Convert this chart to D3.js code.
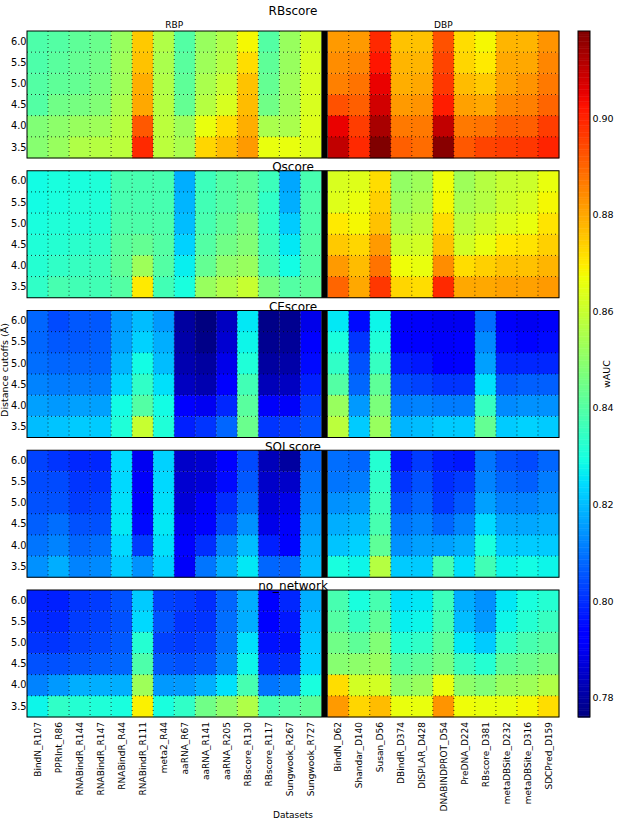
<!DOCTYPE html>
<html><head><meta charset="utf-8">
<script src="https://cdn.jsdelivr.net/npm/d3@7"></script>
<style>body{margin:0;background:#fff}svg{display:block;font-family:"DejaVu Sans",sans-serif}</style>
</head><body><svg id="c" width="621" height="826"></svg>
<script>
const cutoffs = ["6.0","5.5","5.0","4.5","4.0","3.5"];
const rbpDatasets = ["BindN_R107","PPRInt_R86","RNABindR_R144","RNABindR_R147","RNABindR_R44","RNABindR_R111","meta2_R44","aaRNA_R67","aaRNA_R141","aaRNA_R205","RBscore_R130","RBscore_R117","Sungwook_R267","Sungwook_R727"];
const dbpDatasets = ["BindN_D62","Shandar_D140","Susan_D56","DBindR_D374","DISPLAR_D428","DNABINDPROT_D54","PreDNA_D224","RBscore_D381","metaDBSite_D232","metaDBSite_D316","SDCPred_D159"];
const panelNames = ["RBscore","Qscore","CEscore","SOLscore","no_network"];
const groupLabels = ["RBP","DBP"];
const colorbarTicks = [0.78,0.80,0.82,0.84,0.86,0.88,0.90];

// values per dataset (RBP then DBP), each listing cutoffs 6.0 .. 3.5
const rbscoreValues = [
[0.839,0.839,0.840,0.840,0.848,0.849],[0.840,0.841,0.842,0.845,0.850,0.852],[0.842,0.843,0.843,0.846,0.852,0.856],
[0.844,0.845,0.846,0.848,0.853,0.857],[0.852,0.853,0.853,0.855,0.857,0.858],[0.875,0.876,0.879,0.880,0.892,0.899],
[0.856,0.855,0.856,0.857,0.858,0.858],[0.840,0.841,0.842,0.843,0.853,0.855],[0.852,0.853,0.855,0.857,0.866,0.873],
[0.856,0.857,0.860,0.863,0.872,0.877],[0.868,0.872,0.876,0.877,0.879,0.882],[0.840,0.842,0.843,0.845,0.855,0.866],
[0.852,0.852,0.853,0.853,0.855,0.866],[0.862,0.863,0.863,0.863,0.864,0.864],
[0.882,0.884,0.886,0.893,0.905,0.910],[0.882,0.885,0.888,0.891,0.896,0.899],[0.899,0.902,0.905,0.908,0.913,0.918],
[0.876,0.878,0.879,0.882,0.887,0.891],[0.876,0.878,0.880,0.883,0.887,0.889],[0.893,0.895,0.897,0.901,0.910,0.917],
[0.872,0.873,0.877,0.881,0.887,0.892],[0.868,0.870,0.875,0.880,0.888,0.895],[0.878,0.880,0.881,0.885,0.891,0.896],
[0.878,0.880,0.883,0.886,0.891,0.897],[0.883,0.885,0.887,0.890,0.896,0.900]];
const qscoreValues = [
[0.829,0.829,0.830,0.831,0.832,0.834],[0.830,0.830,0.831,0.832,0.834,0.838],[0.830,0.831,0.831,0.833,0.835,0.837],
[0.831,0.831,0.832,0.834,0.836,0.837],[0.838,0.838,0.839,0.841,0.842,0.840],[0.838,0.838,0.839,0.843,0.853,0.870],
[0.838,0.838,0.839,0.840,0.840,0.837],[0.818,0.819,0.820,0.823,0.827,0.830],[0.836,0.837,0.838,0.840,0.843,0.852],
[0.840,0.840,0.842,0.845,0.850,0.856],[0.842,0.843,0.846,0.848,0.852,0.860],[0.836,0.834,0.834,0.836,0.838,0.846],
[0.817,0.818,0.822,0.826,0.829,0.840],[0.838,0.839,0.839,0.840,0.840,0.842],
[0.863,0.864,0.870,0.875,0.882,0.890],[0.864,0.866,0.868,0.873,0.877,0.880],[0.872,0.874,0.876,0.882,0.888,0.897],
[0.851,0.853,0.856,0.861,0.867,0.873],[0.853,0.855,0.858,0.862,0.866,0.872],[0.867,0.868,0.872,0.876,0.884,0.899],
[0.853,0.855,0.858,0.862,0.872,0.880],[0.857,0.857,0.861,0.866,0.874,0.880],[0.860,0.861,0.864,0.870,0.876,0.881],
[0.861,0.863,0.866,0.871,0.876,0.881],[0.866,0.868,0.871,0.874,0.878,0.882]];
const cescoreValues = [
[0.808,0.808,0.809,0.812,0.816,0.820],[0.804,0.806,0.808,0.811,0.815,0.821],[0.806,0.806,0.808,0.811,0.816,0.822],
[0.806,0.807,0.808,0.811,0.816,0.822],[0.815,0.816,0.819,0.823,0.829,0.831],[0.820,0.823,0.829,0.834,0.840,0.860],
[0.815,0.818,0.820,0.825,0.829,0.831],[0.780,0.781,0.782,0.784,0.792,0.798],[0.776,0.777,0.780,0.782,0.790,0.801],
[0.784,0.786,0.789,0.792,0.799,0.808],[0.826,0.828,0.831,0.837,0.841,0.844],[0.777,0.778,0.780,0.783,0.791,0.801],
[0.778,0.779,0.781,0.784,0.791,0.802],[0.789,0.792,0.795,0.798,0.802,0.805],
[0.826,0.830,0.834,0.840,0.852,0.858],[0.795,0.801,0.805,0.808,0.815,0.822],[0.828,0.831,0.835,0.842,0.847,0.852],
[0.791,0.793,0.798,0.804,0.811,0.819],[0.791,0.793,0.797,0.803,0.812,0.820],[0.790,0.791,0.793,0.801,0.811,0.822],
[0.790,0.792,0.794,0.801,0.811,0.822],[0.809,0.813,0.816,0.825,0.835,0.843],[0.791,0.795,0.799,0.806,0.813,0.822],
[0.790,0.794,0.799,0.807,0.814,0.823],[0.791,0.795,0.799,0.807,0.814,0.822]];
const solscoreValues = [
[0.803,0.804,0.805,0.807,0.810,0.814],[0.801,0.804,0.805,0.809,0.812,0.818],[0.799,0.801,0.802,0.805,0.808,0.812],
[0.799,0.801,0.803,0.805,0.809,0.813],[0.824,0.824,0.825,0.826,0.824,0.822],[0.790,0.791,0.792,0.795,0.802,0.814],
[0.823,0.824,0.825,0.826,0.825,0.823],[0.785,0.786,0.787,0.790,0.794,0.791],[0.786,0.787,0.791,0.794,0.800,0.810],
[0.792,0.795,0.800,0.804,0.812,0.818],[0.804,0.806,0.809,0.814,0.820,0.826],[0.783,0.785,0.787,0.789,0.798,0.808],
[0.780,0.785,0.789,0.791,0.793,0.807],[0.808,0.810,0.812,0.815,0.818,0.820],
[0.809,0.810,0.814,0.818,0.821,0.830],[0.808,0.811,0.815,0.819,0.823,0.828],[0.832,0.834,0.836,0.838,0.842,0.857],
[0.797,0.801,0.805,0.810,0.814,0.822],[0.802,0.805,0.808,0.812,0.816,0.822],[0.798,0.800,0.802,0.808,0.816,0.838],
[0.797,0.802,0.806,0.812,0.818,0.825],[0.810,0.812,0.816,0.824,0.830,0.837],[0.805,0.808,0.812,0.817,0.822,0.828],
[0.804,0.807,0.812,0.817,0.822,0.829],[0.808,0.811,0.814,0.818,0.822,0.828]];
const noNetworkValues = [
[0.798,0.799,0.801,0.805,0.812,0.828],[0.798,0.799,0.801,0.805,0.815,0.834],[0.801,0.802,0.803,0.806,0.818,0.832],
[0.802,0.803,0.804,0.807,0.818,0.831],[0.805,0.805,0.806,0.808,0.818,0.830],[0.822,0.824,0.832,0.839,0.853,0.869],
[0.803,0.805,0.803,0.806,0.815,0.830],[0.802,0.801,0.802,0.805,0.815,0.834],[0.800,0.801,0.803,0.806,0.818,0.845],
[0.808,0.809,0.810,0.813,0.825,0.850],[0.818,0.818,0.825,0.828,0.838,0.856],[0.792,0.793,0.796,0.800,0.810,0.838],
[0.799,0.797,0.796,0.800,0.812,0.840],[0.818,0.820,0.822,0.823,0.830,0.842],
[0.838,0.840,0.845,0.849,0.872,0.882],[0.830,0.835,0.842,0.850,0.862,0.873],[0.838,0.842,0.848,0.852,0.862,0.877],
[0.825,0.827,0.832,0.840,0.850,0.866],[0.826,0.828,0.834,0.842,0.852,0.866],[0.836,0.838,0.842,0.846,0.866,0.883],
[0.818,0.820,0.826,0.836,0.850,0.867],[0.814,0.815,0.822,0.832,0.848,0.866],[0.826,0.828,0.834,0.842,0.852,0.866],
[0.830,0.832,0.838,0.844,0.853,0.868],[0.832,0.835,0.840,0.846,0.856,0.872]];
const panelValues = [rbscoreValues,qscoreValues,cescoreValues,solscoreValues,noNetworkValues];

const svg = d3.select("#c");
const allDatasets = rbpDatasets.concat(dbpDatasets);
const plotL = 27, plotR = 559, sepW = 6.3;
const colW = (plotR - plotL - sepW) / allDatasets.length;
const xR = d3.scaleBand().domain(rbpDatasets).range([plotL, plotL + rbpDatasets.length*colW]);
const xD = d3.scaleBand().domain(dbpDatasets).range([plotL + rbpDatasets.length*colW + sepW, plotR]);
const xOf = d => rbpDatasets.includes(d) ? xR(d) : xD(d);
const panelY = d3.scaleBand().domain(panelNames).range([31, 717]).paddingInner(0.0912);

const allVals = panelValues.flat(2);
const vExt = d3.extent(allVals);
const rS = d3.scaleLinear().domain([0,0.35,0.66,0.89,1]).range([0,0,1,1,0.5]).clamp(true);
const gS = d3.scaleLinear().domain([0,0.125,0.375,0.64,0.91,1]).range([0,0,1,1,0,0]).clamp(true);
const bS = d3.scaleLinear().domain([0,0.11,0.34,0.65,1]).range([0.5,1,1,0,0]).clamp(true);
const norm = d3.scaleLinear().domain(vExt).range([0,1]).clamp(true);
const jet = v => { const t = norm(v); return d3.rgb(rS(t)*255, gS(t)*255, bS(t)*255).formatHex(); };

const font = "DejaVu Sans, sans-serif";
panelNames.forEach((name, pi) => {
  const top = panelY(name), h = panelY.bandwidth();
  const y = d3.scaleBand().domain(cutoffs).range([top, top + h]);
  const g = svg.append("g");
  const cells = [];
  allDatasets.forEach((ds, di) => cutoffs.forEach((c, ci) => cells.push({ds, c, v: panelValues[pi][di][ci]})));
  g.selectAll("rect.cell").data(cells).join("rect").attr("class","cell")
    .attr("x", d => xOf(d.ds)).attr("y", d => y(d.c))
    .attr("width", colW + 0.3).attr("height", y.bandwidth() + 0.3)
    .attr("fill", d => jet(d.v));
  g.append("rect").attr("x", xR.range()[1]).attr("y", top).attr("width", sepW).attr("height", h).attr("fill", "#000");
  const vx = rbpDatasets.slice(1).map(d => xR(d)).concat(dbpDatasets.slice(1).map(d => xD(d)));
  g.selectAll("line.vg").data(vx).join("line").attr("x1", d => d).attr("x2", d => d)
    .attr("y1", top).attr("y2", top + h).attr("stroke", "#000").attr("stroke-width", 1)
    .attr("stroke-dasharray", "1,3").attr("opacity", 0.75);
  g.selectAll("line.hg").data(cutoffs.slice(1)).join("line").attr("x1", plotL).attr("x2", plotR)
    .attr("y1", d => y(d)).attr("y2", d => y(d)).attr("stroke", "#000").attr("stroke-width", 1)
    .attr("stroke-dasharray", "1,3").attr("opacity", 0.75);
  g.append("rect").attr("x", plotL).attr("y", top).attr("width", plotR - plotL).attr("height", h)
    .attr("fill", "none").attr("stroke", "#000").attr("stroke-width", 1);
  const ya = svg.append("g").attr("transform", `translate(${plotL},0)`)
    .call(d3.axisLeft(y).tickSize(0).tickPadding(0.5));
  ya.select(".domain").remove();
  ya.selectAll("text").attr("font-size", 9.8).attr("font-family", font).attr("fill", "#000");
  if (pi === 0) {
    svg.append("text").attr("x", (plotL+plotR)/2).attr("y", 15).attr("text-anchor","middle")
      .attr("font-size", 12).attr("font-family", font).text(name);
    [[xR, groupLabels[0]], [xD, groupLabels[1]]].forEach(([s, lab]) => {
      const r = s.range();
      svg.append("text").attr("x", (r[0]+r[1])/2).attr("y", top - 3).attr("text-anchor","middle")
        .attr("font-size", 9).attr("font-family", font).text(lab);
    });
  } else {
    svg.append("text").attr("x", (plotL+plotR)/2).attr("y", top + 0.5).attr("text-anchor","middle")
      .attr("font-size", 12).attr("font-family", font).text(name);
  }
  if (pi === panelNames.length - 1) {
    [xR, xD].forEach(s => {
      const xa = svg.append("g").attr("transform", `translate(0,${top + h})`)
        .call(d3.axisBottom(s).tickSize(0).tickPadding(0));
      xa.select(".domain").remove();
      xa.selectAll("text").attr("transform", "rotate(-90)").attr("text-anchor", "end")
        .attr("x", -5).attr("y", 0).attr("dy", "0.35em")
        .attr("font-size", 9).attr("font-family", font).attr("fill", "#000");
    });
  }
});

svg.append("text").attr("x", (plotL+plotR)/2).attr("y", 818).attr("text-anchor","middle")
  .attr("font-size", 9).attr("font-family", font).text("Datasets");
svg.append("text").attr("transform", "translate(7.5,370) rotate(-90)").attr("text-anchor","middle")
  .attr("font-size", 9.5).attr("font-family", font).text("Distance cutoffs (Å)");

const cbX = 578, cbW = 12, cbTop = 31, cbBot = 717;
const cy = d3.scaleLinear().domain(vExt).range([cbBot, cbTop]);
const steps = d3.range(0, 400).map(i => vExt[0] + (vExt[1]-vExt[0]) * i / 400);
const dv = (vExt[1]-vExt[0]) / 400;
svg.append("g").selectAll("rect").data(steps).join("rect")
  .attr("x", cbX).attr("width", cbW)
  .attr("y", d => cy(d + dv)).attr("height", d => cy(d) - cy(d + dv) + 0.5)
  .attr("fill", d => jet(d + dv/2));
svg.append("rect").attr("x", cbX).attr("y", cbTop).attr("width", cbW).attr("height", cbBot - cbTop)
  .attr("fill","none").attr("stroke","#000").attr("stroke-width",1);
const ca = svg.append("g").attr("transform", `translate(${cbX + cbW},0)`)
  .call(d3.axisRight(cy).tickValues(colorbarTicks).tickFormat(d3.format(".2f")).tickSize(0).tickPadding(2.5));
ca.select(".domain").remove();
ca.selectAll("text").attr("font-size", 9.5).attr("font-family", font).attr("fill","#000");
svg.append("text").attr("transform", "translate(610,374) rotate(-90)").attr("text-anchor","middle")
  .attr("font-size", 9.5).attr("font-family", font).text("wAUC");
</script></body></html>
